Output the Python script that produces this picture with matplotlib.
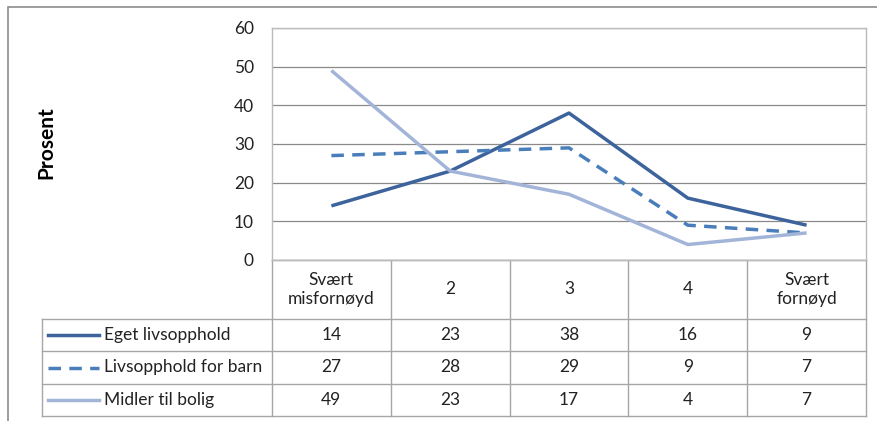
import matplotlib.pyplot as plt
from matplotlib.lines import Line2D
from matplotlib.patches import Rectangle

# Svarkategorier og andeler (prosent)
kategorier = ['Svært\nmisfornøyd', '2', '3', '4', 'Svært\nfornøyd']
serier = ['Eget livsopphold', 'Livsopphold for barn', 'Midler til bolig']
eget = [14, 23, 38, 16, 9]
barn = [27, 28, 29, 9, 7]
bolig = [49, 23, 17, 4, 7]

verdier = [eget, barn, bolig]
farger = ['#3C639C', '#4A7EBB', '#A2B5D8']
stiler = ['-', (0, (3.6, 2.4)), '-']

plt.rcParams['font.family'] = ['Lato', 'DejaVu Sans']

W, H = 877, 421
fig = plt.figure(figsize=(W / 100, H / 100), dpi=100)

# ytre ramme rundt hele diagrammet
fig.patches.append(Rectangle((8 / W, -0.05), 1.0, (H - 7) / H + 0.05,
                             transform=fig.transFigure, fill=False,
                             edgecolor='#8C8C8C', linewidth=1.2))

x0, x1, ytop, ybot = 272, 866, 28, 260
ax = fig.add_axes([x0 / W, 1 - ybot / H, (x1 - x0) / W, (ybot - ytop) / H])

x = list(range(len(kategorier)))
for v, f, s in zip(verdier, farger, stiler):
    ax.plot(x, v, color=f, linestyle=s, linewidth=2.5, solid_capstyle='butt',
            dash_capstyle='butt')

ax.set_xlim(-0.5, len(kategorier) - 0.5)
ax.set_ylim(0, 60)
ax.set_yticks(range(0, 61, 10))
ax.set_xticks([])
ax.yaxis.grid(True, color='#8A8A8A', linewidth=0.9)
ax.set_axisbelow(True)
ax.tick_params(axis='y', length=0, pad=13, labelsize=12.5, labelcolor='#222222')
for sp in ax.spines.values():
    sp.set_color('#BBBBBB')
    sp.set_linewidth(1.0)
ax.set_ylabel('Prosent', fontsize=15, fontweight='bold')
ax.yaxis.set_label_coords((56 - x0) / (x1 - x0), (ybot - 143) / (ybot - ytop))

# tabell under diagrammet, i dataenheter for x og piksler for y
enhet = (x1 - x0) / len(kategorier)
venstre = -0.5 - (x0 - 42) / enhet
rad_y = [260, 319, 351, 384, 416]


def fy(p):
    return (ybot - p) / (ybot - ytop)


linjefarge = '#A6A6A6'
tr = ax.get_xaxis_transform()

# horisontale linjer
for i, p in enumerate(rad_y):
    start = -0.5 if i == 0 else venstre
    ax.add_line(Line2D([start, len(kategorier) - 0.5], [fy(p)] * 2, transform=tr,
                       clip_on=False, color=linjefarge, linewidth=1.0))
# vertikale linjer
for k in range(len(kategorier) + 1):
    ax.add_line(Line2D([k - 0.5] * 2, [fy(260), fy(416)], transform=tr,
                       clip_on=False, color=linjefarge, linewidth=1.0))
ax.add_line(Line2D([venstre] * 2, [fy(319), fy(416)], transform=tr,
                   clip_on=False, color=linjefarge, linewidth=1.0))

# kolonneoverskrifter
for k, kat in enumerate(kategorier):
    ax.text(k, fy((260 + 319) / 2), kat, transform=tr, ha='center', va='center',
            fontsize=12.5, color='#222222', linespacing=1.2, clip_on=False)

# rader med forklaring og verdier
px = 1 / enhet
for r, (navn, v, f, s) in enumerate(zip(serier, verdier, farger, stiler)):
    yc = fy((rad_y[r + 1] + rad_y[r + 2]) / 2)
    lx = venstre + (48 - 42) * px
    ax.add_line(Line2D([lx, lx + 51 * px], [yc, yc], transform=tr, clip_on=False,
                       color=f, linestyle=s, linewidth=2.5, dash_capstyle='butt'))
    ax.text(venstre + (104 - 42) * px, yc, navn, transform=tr, ha='left',
            va='center', fontsize=12.5, color='#222222', clip_on=False)
    for k, val in enumerate(v):
        ax.text(k, yc, str(val), transform=tr, ha='center', va='center',
                fontsize=12.5, color='#222222', clip_on=False)

fig.savefig('out.png', dpi=100)
